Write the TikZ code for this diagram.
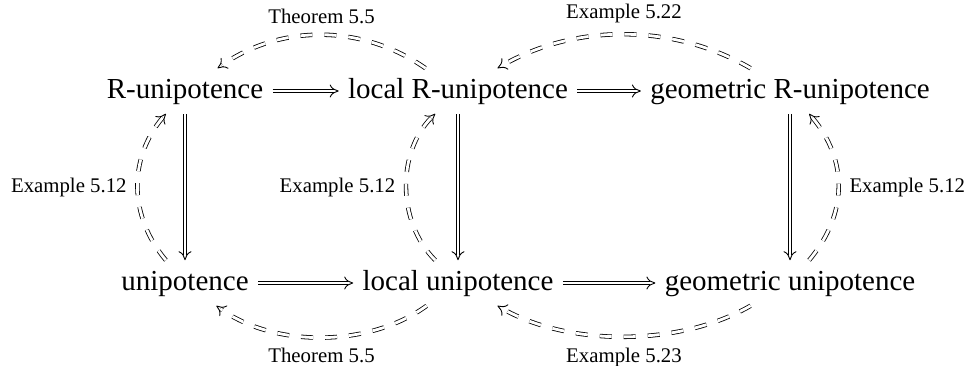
\documentclass[tikz,border=0pt]{standalone}
\usepackage{fontspec}
\setmainfont{Liberation Serif}
\usetikzlibrary{arrows.meta}
\tikzset{
    propbox/.style={inner sep=4.5pt, text height=10.2pt, text depth=3.2pt,
                    font=\fontsize{14.5}{17}\selectfont},
    reflabel/.style={inner sep=4.5pt, font=\fontsize{10.4}{12}\selectfont},
    % double line drawn by hand, tip added on an invisible copy of the path
    arrow/.style={line width=2.2pt, shorten >=2.5pt,
                  postaction={draw=white, line width=1.4pt},
                  postaction={draw=black, line width=0.45pt, shorten >=0pt,
                              dash pattern=on 0pt off 40cm,
                              -{Computer Modern Rightarrow[length=4.5pt, width=6.5pt]}}},
    dasharrow/.style={arrow, dash pattern=on 6pt off 6pt},
}
\begin{document}
\begin{tikzpicture}[x=0.5pt, y=0.5pt]
    \useasboundingbox (0,0) rectangle (967,365);

    \node[propbox] (Runip) at (185, 274) {R-unipotence};
    \node[propbox] (locRunip) at (458, 274) {local R-unipotence};
    \node[propbox] (geoRunip) at (790, 274) {geometric R-unipotence};
    \node[propbox] (unip) at (185, 82) {unipotence};
    \node[propbox] (locunip) at (458, 82) {local unipotence};
    \node[propbox] (geounip) at (790, 82) {geometric unipotence};

    \draw[arrow] (Runip) -- (locRunip);
    \draw[arrow] (locRunip) -- (geoRunip);
    \draw[arrow] (unip) -- (locunip);
    \draw[arrow] (locunip) -- (geounip);
    \draw[arrow] (Runip) -- (unip);
    \draw[arrow] (locRunip) -- (locunip);
    \draw[arrow] (geoRunip) -- (geounip);

    \draw[dasharrow] (locRunip) to[out=145, in=35, looseness=0.95]
        node[reflabel, above] {Theorem 5.5} (Runip);
    \draw[dasharrow] (geoRunip) to[out=150, in=30, looseness=0.91]
        node[reflabel, above] {Example 5.22} (locRunip);
    \draw[dasharrow] (unip) to[out=130, in=230, looseness=1.02]
        node[reflabel, left] {Example 5.12} (Runip);
    \draw[dasharrow] (locunip) to[out=135, in=225, looseness=0.95]
        node[reflabel, left] {Example 5.12} (locRunip);
    \draw[dasharrow] (geounip) to[out=50, in=310, looseness=1.06]
        node[reflabel, right] {Example 5.12} (geoRunip);
    \draw[dasharrow] (locunip) to[out=216, in=324, looseness=0.87]
        node[reflabel, below] {Theorem 5.5} (unip);
    \draw[dasharrow] (geounip) to[out=210, in=330, looseness=0.83]
        node[reflabel, below] {Example 5.23} (locunip);
\end{tikzpicture}
\end{document}
